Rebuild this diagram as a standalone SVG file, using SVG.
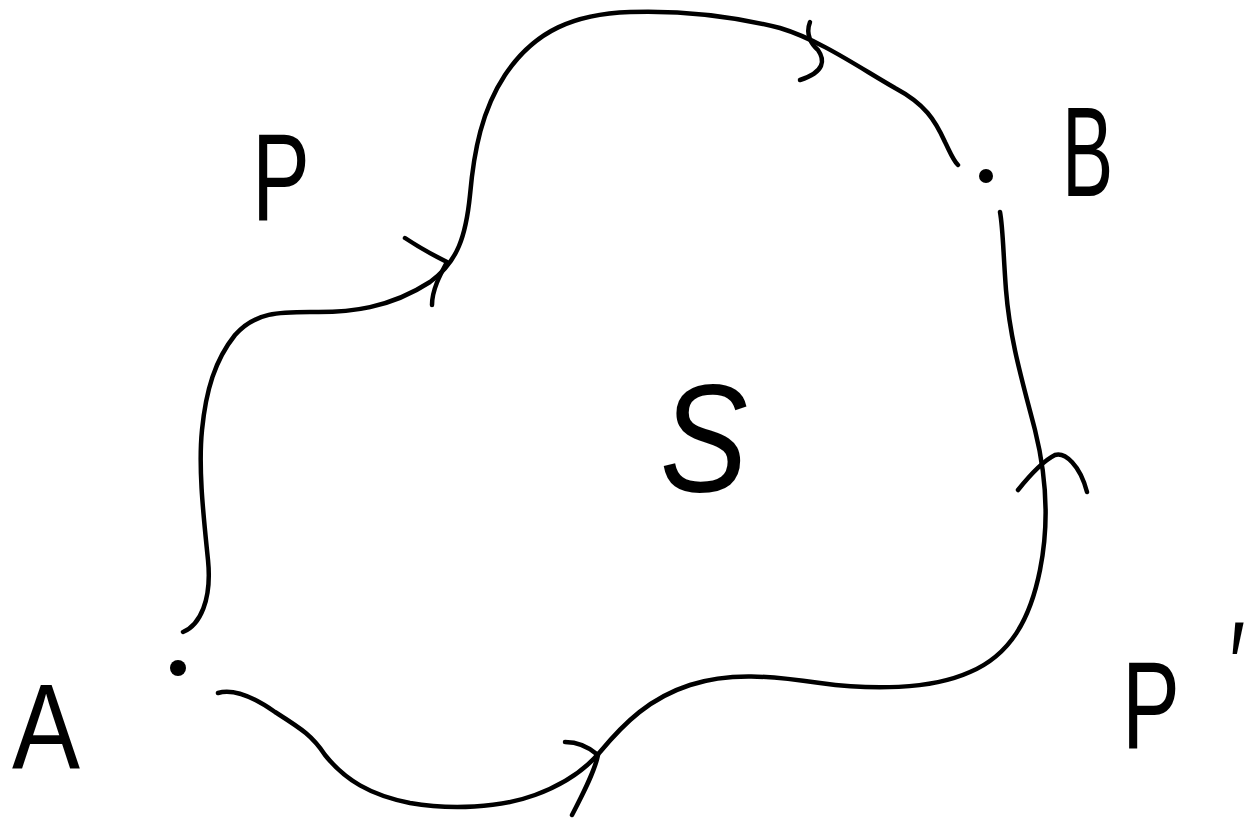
<svg xmlns="http://www.w3.org/2000/svg" width="1258" height="822" viewBox="0 0 1258 822">
<style>
.c{fill:none;stroke:#000;stroke-width:4.5;stroke-linecap:round;stroke-linejoin:round}
.t{font-family:"Liberation Sans",Arial,sans-serif;fill:#000}
</style>
<rect width="1258" height="822" fill="#fff"/>
<g id="connectors">
<path id="pathP" class="c" d="M183,632 C200,625 212,600 208,560 C204,520 198,470 202,430 C206,390 215,360 235,335 C255,312 280,312 310,312 C350,313 390,308 430,282 C458,262 466,235 470,195 C474,150 482,110 505,75 C535,30 575,14 630,12 C690,10 740,18 780,28 C820,40 860,68 895,88 C925,104 935,120 945,142 C950,152 953,160 958,165"/>
<path id="pathP2" class="c" d="M218,693 C235,688 255,698 275,712 C300,728 312,735 325,755 C345,780 370,795 410,803 C450,810 500,808 535,795 C565,784 585,770 600,752 C625,722 650,698 690,685 C730,672 770,676 820,683 C870,690 930,690 970,672 C1010,655 1030,620 1040,570 C1050,520 1045,470 1035,430 C1022,380 1010,340 1006,290 C1003,250 1003,228 1000,212"/>
<path class="c" d="M405,238 C420,248 435,256 447,262 C440,275 432,290 432,305"/>
<path class="c" d="M810,22 C805,35 812,45 818,50 C825,60 825,72 800,80"/>
<path class="c" d="M1018,490 C1030,475 1045,460 1055,455 C1065,452 1080,465 1087,492"/>
<path class="c" d="M565,742 C580,742 590,748 598,755 C595,770 585,790 572,815"/>
</g>
<g id="nodeA">
<circle cx="178" cy="668" r="8" fill="#000"/>
<text class="t" x="12" y="768" font-size="120" transform="translate(12 768) scale(0.85 1) translate(-12 -768)">A</text>
</g>
<g id="nodeB">
<circle cx="986" cy="176" r="7" fill="#000"/>
<text class="t" x="1062" y="196" font-size="128" transform="translate(1062 196) scale(0.6 1) translate(-1062 -196)">B</text>
</g>
<g id="labelP">
<text class="t" x="252" y="220" font-size="124" transform="translate(252 220) scale(0.7 1) translate(-252 -220)">P</text>
</g>
<g id="labelS">
<text class="t" x="660" y="492" font-size="155" font-style="italic" transform="translate(660 492) scale(0.85 1) translate(-660 -492)">S</text>
</g>
<g id="labelP2">
<text class="t" x="1122" y="748" font-size="124" transform="translate(1122 748) scale(0.7 1) translate(-1122 -748)">P<tspan dx="70" dy="-40">′</tspan></text>
</g>
</svg>
